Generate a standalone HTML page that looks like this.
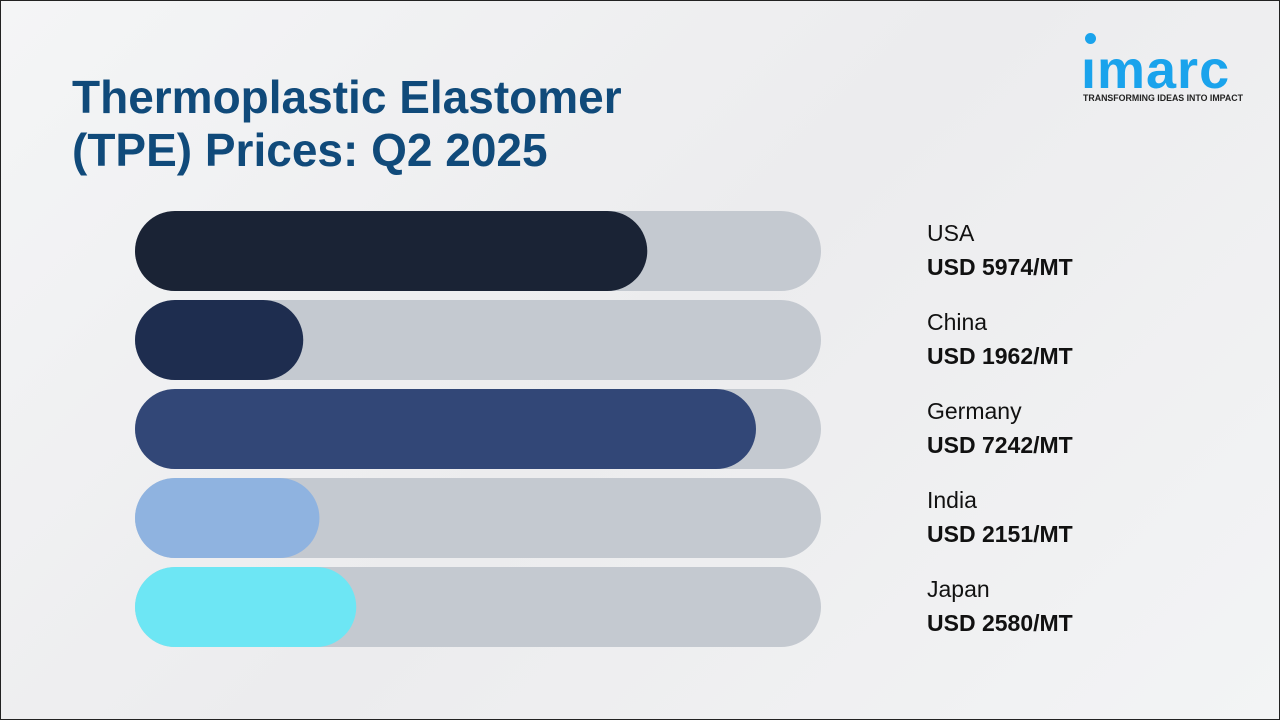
<!DOCTYPE html>
<html><head><meta charset="utf-8"><style>
body{margin:0;width:1280px;height:720px;overflow:hidden;font-family:"Liberation Sans",sans-serif;}
#page{position:relative;width:1278px;height:718px;border:1px solid #222;background:linear-gradient(135deg,#f4f5f6 0%,#ececee 50%,#f3f4f5 100%);}
h1{position:absolute;left:71px;top:70px;margin:0;font-size:46px;line-height:53px;color:#104a7a;font-weight:bold;white-space:nowrap;}
.logo{position:absolute;left:1080px;top:30px;width:170px;}
.logo .word{font-size:54px;font-weight:bold;color:#1aa3ec;letter-spacing:1px;line-height:54px;position:absolute;top:12px;left:0;}
.logo .dot{position:absolute;left:4px;top:2px;width:11px;height:11px;border-radius:50%;background:#1aa3ec;}
.logo .tag{position:absolute;top:62px;left:2px;font-size:8.8px;font-weight:bold;color:#222;white-space:nowrap;}
.lbl{position:absolute;left:926px;font-size:23px;color:#111;}
.val{position:absolute;left:926px;font-size:23px;font-weight:bold;color:#111;}
</style></head><body>
<div id="page">
<h1>Thermoplastic Elastomer<br>(TPE) Prices: Q2 2025</h1>
<div class="logo"><div class="dot"></div><div class="word">ımarc</div><div class="tag">TRANSFORMING IDEAS INTO IMPACT</div></div>
<svg id="chart" width="1280" height="720" style="position:absolute;left:-1px;top:-1px"></svg>
<div id="labels"></div>
</div>
<script>
const categories=["USA","China","Germany","India","Japan"];
const values=[5974,1962,7242,2151,2580];
const valueLabels=["USD 5974/MT","USD 1962/MT","USD 7242/MT","USD 2151/MT","USD 2580/MT"];
const colors=["#1a2335","#1e2d4f","#324777","#8fb3e0","#6de6f4"];
const maxV=8000,x0=135,trackW=686,top0=211,step=89,h=80;
const xs=v=>v/maxV*trackW;
const svg=document.getElementById('chart'),ns="http://www.w3.org/2000/svg";
const lab=document.getElementById('labels');
categories.forEach((c,i)=>{
 const y=top0+i*step;
 const t=document.createElementNS(ns,'rect');
 
 
 t.setAttribute('x',x0);t.setAttribute('y',y);t.setAttribute('width',trackW);t.setAttribute('height',h);t.setAttribute('rx',40);t.setAttribute('fill','#c4c9d0');svg.appendChild(t);
 const b=document.createElementNS(ns,'rect');
 
 
 b.setAttribute('x',x0);b.setAttribute('y',y);b.setAttribute('width',xs(values[i]));b.setAttribute('height',h);b.setAttribute('rx',40);b.setAttribute('fill',colors[i]);svg.appendChild(b);
 const l=document.createElement('div');l.className='lbl';l.style.top=(y+8)+'px';l.textContent=c;
 
 
 lab.appendChild(l);
 const v=document.createElement('div');v.className='val';v.style.top=(y+42)+'px';v.textContent=valueLabels[i];
 
 
 lab.appendChild(v);
});
</script>
</body></html>
